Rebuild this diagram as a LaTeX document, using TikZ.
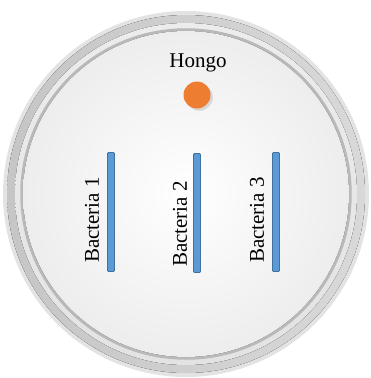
\documentclass[tikz,border=0pt]{standalone}
\usepackage{fontspec}
\setmainfont{Liberation Serif}
\usetikzlibrary{shadows}
\definecolor{barblue}{HTML}{5B9BD5}
\definecolor{baredge}{HTML}{41719C}
\definecolor{fungus}{HTML}{ED7D31}
\newcommand{\bactbar}[3]{\node[bar] (#1) at (#2,#3) {};}

\begin{document}
\begin{tikzpicture}[x=1pt, y=-1pt,
    bar/.style={draw=baredge, fill=barblue, line width=0.8pt, rounded corners=1pt,
        minimum width=7pt, minimum height=119pt, inner sep=0pt},
    lab/.style={font=\fontsize{21}{25}\selectfont, rotate=90, inner sep=0pt}]
        \useasboundingbox (0,0) rectangle (370,378);
        % dish
        \coordinate (dish) at (186,194);
        \fill[gray!22] (dish) circle (183);
        \fill[left color=gray!45, right color=gray!30] (dish) circle (179);
        \fill[top color=gray!15, bottom color=gray!22] (dish) circle (171);
        \draw[gray!55, line width=2.5pt] (dish) circle (164.5);
        \fill[inner color=white, outer color=gray!14] (dish) circle (163);
        % fungus
        \node[font=\fontsize{21}{25}\selectfont, inner sep=0pt] (hongo) at (198,63) {Hongo};
        \node[circle, fill=fungus, minimum size=27pt, inner sep=0pt, drop shadow={opacity=0.25}] (dot) at (197,95) {};
        % bacteria
        \bactbar{b1}{111}{212}
        \bactbar{b2}{197}{213}
        \bactbar{b3}{276}{212}
        \node[lab] (l1) at (92,220) {Bacteria 1};
        \node[lab] (l2) at (180,224) {Bacteria 2};
        \node[lab] (l3) at (257,220) {Bacteria 3};
    \end{tikzpicture}
\end{document}
